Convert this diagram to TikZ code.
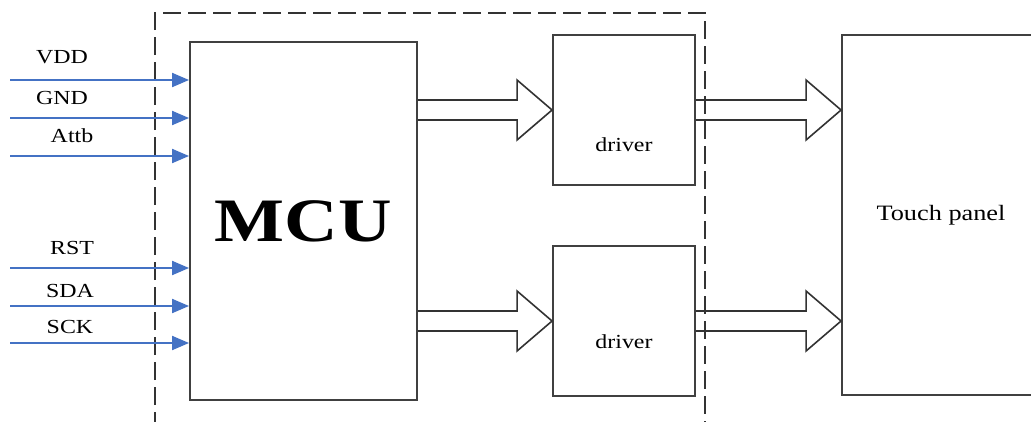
\documentclass[tikz,border=0pt]{standalone}
\usepackage{fontspec}
\setmainfont{Liberation Serif}
\usetikzlibrary{arrows.meta,calc}
\definecolor{sigblue}{RGB}{68,114,196}
\tikzset{
  box/.style={draw=black!75, line width=1.9bp, inner sep=0pt},
  sig/.style={draw=sigblue, line width=2bp, -{Triangle[length=17bp,width=14bp]}},
  fat/.style={draw=black!80, line width=1.6bp, line join=miter},
  txt/.style={xscale=1.2, transform shape, inner sep=0pt},
  frame/.style={draw=black!80, line width=1.6bp, dash pattern=on 18bp off 7bp}
}
% shaft from #1 to #2, at the height of #3
\newcommand\fatarrow[3]{%
  \draw[fat] let \p1=(#1.east), \p2=(#2.west), \p3=(#3.center) in
    (\x1,\y3+10pt) -- (\x2-35pt,\y3+10pt) -- (\x2-35pt,\y3+30pt) -- (\x2,\y3)
    -- (\x2-35pt,\y3-30pt) -- (\x2-35pt,\y3-10pt) -- (\x1,\y3-10pt);}
\begin{document}
\begin{tikzpicture}[x=1bp,y=-1bp]
\useasboundingbox (0,0) rectangle (1031,421);
% outer dashed frame (bottom edge out of view)
\coordinate (fbl) at (155,430);
\coordinate (ftl) at (155,13);
\coordinate (ftr) at (705,13);
\coordinate (fbr) at (705,430);
\draw[frame] (fbl) -- (ftl) -- (ftr) -- (fbr);
% blocks
\node[box, minimum width=227bp, minimum height=358bp] (mcu) at (303.5,221)
  {};
\node[txt, font=\fontsize{62}{70}\selectfont\bfseries] at (mcu.center) {MCU};
\node[box, minimum width=142bp, minimum height=150bp,
  label={[txt, font=\fontsize{20}{24}\selectfont, yshift=-35bp]center:driver}]
  (drv1) at (624,110) {};
\node[box, minimum width=142bp, minimum height=150bp,
  label={[txt, font=\fontsize{20}{24}\selectfont, yshift=-21bp]center:driver}]
  (drv2) at (624,321) {};
\node[box, minimum width=198bp, minimum height=360bp] (touch) at (941,215) {};
\node[txt, font=\fontsize{22}{26}\selectfont] at (touch.center) {Touch panel};
% wide arrows
\fatarrow{mcu}{drv1}{drv1}
\fatarrow{mcu}{drv2}{drv2}
\fatarrow{drv1}{touch}{drv1}
\fatarrow{drv2}{touch}{drv2}
% input signals
\foreach \name/\ly/\lx/\ty in {VDD/80/62/57, GND/118/62/98, Attb/156/72/136,
    RST/268/72/248, SDA/306/70/291, SCK/343/70/327} {
  \coordinate (in\name) at (10,\ly);
  \draw[sig] (in\name) -- (in\name -| mcu.west);
  \node[txt, font=\fontsize{20}{24}\selectfont] at (\lx,\ty) {\name};
}
\end{tikzpicture}
\end{document}
